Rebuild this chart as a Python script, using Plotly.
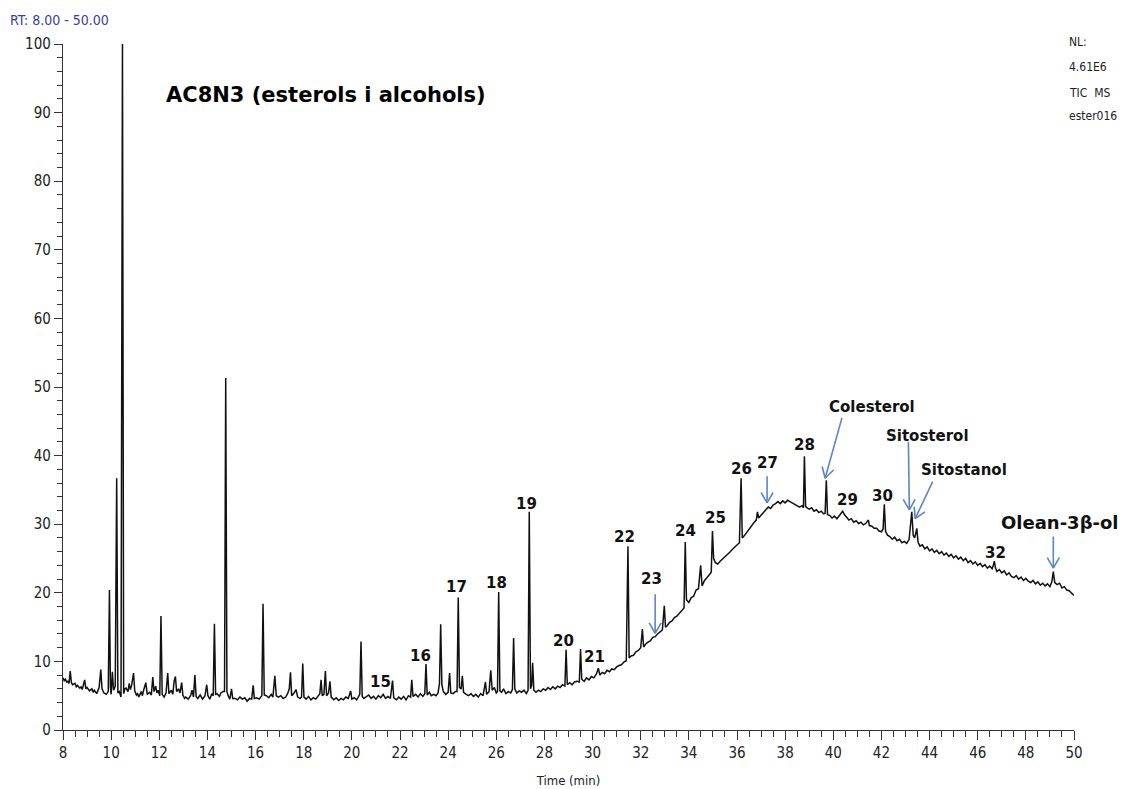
import plotly.graph_objects as go

# TIC trace (retention time in min, relative abundance %)
rt = [
    8.00, 8.05, 8.10, 8.15, 8.20, 8.25, 8.30, 8.35, 8.40, 8.50,
    8.55, 8.60, 8.70, 8.75, 8.80, 8.90, 8.95, 9.00, 9.10, 9.20,
    9.25, 9.30, 9.40, 9.50, 9.57, 9.62, 9.70, 9.80, 9.88, 9.93,
    9.97, 10.00, 10.05, 10.10, 10.17, 10.23, 10.28, 10.34, 10.41, 10.47,
    10.52, 10.57, 10.62, 10.70, 10.75, 10.80, 10.85, 10.93, 10.98, 11.05,
    11.10, 11.15, 11.25, 11.30, 11.35, 11.44, 11.50, 11.60, 11.67, 11.73,
    11.78, 11.85, 11.90, 11.95, 12.02, 12.07, 12.12, 12.20, 12.28, 12.35,
    12.40, 12.50, 12.56, 12.62, 12.67, 12.72, 12.80, 12.86, 12.93, 12.98,
    13.05, 13.10, 13.20, 13.30, 13.36, 13.42, 13.48, 13.53, 13.60, 13.70,
    13.80, 13.90, 13.97, 14.02, 14.10, 14.18, 14.24, 14.29, 14.34, 14.40,
    14.50, 14.56, 14.65, 14.71, 14.76, 14.81, 14.86, 14.93, 15.00, 15.05,
    15.15, 15.25, 15.35, 15.45, 15.55, 15.65, 15.75, 15.84, 15.90, 15.95,
    16.05, 16.15, 16.26, 16.31, 16.36, 16.45, 16.55, 16.65, 16.72, 16.80,
    16.86, 16.95, 17.05, 17.15, 17.25, 17.33, 17.40, 17.45, 17.50, 17.60,
    17.68, 17.75, 17.85, 17.91, 17.96, 18.01, 18.10, 18.20, 18.30, 18.40,
    18.50, 18.60, 18.67, 18.72, 18.77, 18.84, 18.90, 18.95, 19.03, 19.09,
    19.14, 19.25, 19.35, 19.45, 19.55, 19.65, 19.75, 19.85, 19.95, 20.00,
    20.10, 20.20, 20.28, 20.33, 20.38, 20.43, 20.50, 20.60, 20.70, 20.80,
    20.90, 21.00, 21.10, 21.20, 21.30, 21.40, 21.50, 21.60, 21.69, 21.74,
    21.85, 21.95, 22.05, 22.15, 22.25, 22.35, 22.44, 22.49, 22.54, 22.65,
    22.75, 22.85, 22.95, 23.03, 23.08, 23.13, 23.22, 23.30, 23.40, 23.50,
    23.58, 23.64, 23.69, 23.74, 23.80, 23.90, 24.00, 24.06, 24.11, 24.20,
    24.30, 24.37, 24.42, 24.47, 24.54, 24.59, 24.64, 24.75, 24.85, 24.95,
    25.05, 25.15, 25.25, 25.35, 25.45, 25.55, 25.60, 25.70, 25.77, 25.83,
    25.92, 26.00, 26.05, 26.10, 26.15, 26.22, 26.30, 26.40, 26.50, 26.60,
    26.67, 26.72, 26.77, 26.85, 26.95, 27.05, 27.15, 27.25, 27.32, 27.37,
    27.42, 27.47, 27.51, 27.56, 27.65, 27.75, 27.85, 27.95, 28.05, 28.15,
    28.25, 28.35, 28.45, 28.55, 28.65, 28.75, 28.85, 28.90, 28.95, 29.05,
    29.15, 29.25, 29.35, 29.45, 29.50, 29.55, 29.65, 29.75, 29.85, 29.95,
    30.05, 30.15, 30.24, 30.30, 30.40, 30.50, 30.60, 30.70, 30.80, 30.90,
    31.00, 31.10, 31.20, 31.30, 31.40, 31.47, 31.52, 31.60, 31.70, 31.80,
    31.90, 32.00, 32.07, 32.12, 32.20, 32.30, 32.40, 32.50, 32.60, 32.70,
    32.80, 32.90, 32.98, 33.03, 33.10, 33.20, 33.30, 33.40, 33.50, 33.60,
    33.70, 33.80, 33.85, 33.90, 34.00, 34.10, 34.20, 34.30, 34.40, 34.49,
    34.55, 34.65, 34.75, 34.85, 34.93, 34.98, 35.03, 35.10, 35.20, 35.30,
    35.40, 35.50, 35.60, 35.70, 35.80, 35.90, 36.00, 36.10, 36.17, 36.22,
    36.30, 36.40, 36.50, 36.60, 36.70, 36.80, 36.85, 36.90, 37.00, 37.10,
    37.20, 37.30, 37.40, 37.50, 37.60, 37.70, 37.80, 37.90, 38.00, 38.10,
    38.20, 38.30, 38.40, 38.50, 38.60, 38.70, 38.76, 38.80, 38.85, 38.90,
    39.00, 39.10, 39.20, 39.30, 39.40, 39.50, 39.60, 39.66, 39.71, 39.76,
    39.85, 39.95, 40.05, 40.15, 40.25, 40.32, 40.39, 40.46, 40.55, 40.65,
    40.75, 40.85, 40.95, 41.05, 41.15, 41.25, 41.35, 41.42, 41.46, 41.50,
    41.60, 41.70, 41.80, 41.90, 42.00, 42.07, 42.12, 42.17, 42.25, 42.35,
    42.45, 42.55, 42.65, 42.75, 42.85, 42.95, 43.05, 43.15, 43.22, 43.26,
    43.32, 43.38, 43.42, 43.47, 43.52, 43.60, 43.70, 43.80, 43.90, 44.00,
    44.10, 44.20, 44.30, 44.40, 44.50, 44.60, 44.70, 44.80, 44.90, 45.00,
    45.10, 45.20, 45.30, 45.40, 45.50, 45.60, 45.70, 45.80, 45.90, 46.00,
    46.10, 46.20, 46.30, 46.40, 46.50, 46.60, 46.65, 46.69, 46.74, 46.80,
    46.90, 47.00, 47.10, 47.20, 47.30, 47.40, 47.50, 47.60, 47.70, 47.80,
    47.90, 48.00, 48.10, 48.20, 48.30, 48.40, 48.50, 48.60, 48.70, 48.80,
    48.90, 49.00, 49.08, 49.14, 49.20, 49.30, 49.40, 49.50, 49.60, 49.70,
    49.80, 49.90, 50.00,
]
tic = [
    7.6, 7.2, 7.4, 7.0, 7.1, 6.8, 8.6, 6.9, 6.6, 6.8,
    6.3, 6.5, 6.1, 6.3, 5.9, 7.3, 6.0, 6.2, 5.7, 6.0,
    5.5, 5.8, 5.3, 6.2, 8.8, 6.0, 5.4, 5.2, 5.6, 20.4,
    6.2, 5.2, 8.5, 5.8, 6.4, 36.7, 5.4, 5.6, 4.8, 100.0,
    5.3, 6.0, 6.1, 5.6, 6.8, 5.9, 6.5, 8.3, 5.7, 5.1,
    5.3, 4.8, 5.6, 5.0, 5.8, 6.9, 5.2, 5.5, 5.1, 7.7,
    5.6, 6.4, 5.4, 5.8, 5.0, 16.6, 5.2, 4.8, 5.4, 8.3,
    5.3, 5.8, 5.2, 7.2, 7.8, 5.6, 6.0, 5.4, 6.9, 5.1,
    4.6, 4.8, 4.5, 5.0, 5.8, 4.8, 8.0, 4.9, 4.6, 5.1,
    4.5, 5.0, 6.6, 5.0, 4.5, 5.3, 5.0, 15.5, 5.2, 5.3,
    4.9, 5.4, 5.6, 5.6, 51.3, 5.6, 5.0, 4.5, 6.0, 4.6,
    4.6, 4.4, 4.8, 4.5, 4.7, 4.2, 4.6, 4.5, 6.5, 4.6,
    4.7, 4.5, 5.0, 18.4, 5.1, 5.0, 4.7, 5.2, 4.8, 7.9,
    5.0, 4.8, 5.0, 4.6, 4.8, 5.3, 6.0, 8.4, 5.0, 5.4,
    5.9, 4.8, 4.6, 4.8, 9.7, 4.8, 4.5, 4.9, 4.4, 4.7,
    4.5, 5.0, 5.3, 7.3, 5.0, 5.2, 8.6, 5.0, 5.4, 7.1,
    4.8, 4.4, 4.7, 4.3, 4.6, 4.4, 4.8, 4.6, 5.7, 4.5,
    4.7, 4.4, 4.9, 5.2, 12.9, 4.9, 4.6, 4.8, 5.1, 4.6,
    4.9, 4.5, 5.0, 4.7, 5.2, 4.6, 4.9, 4.6, 7.2, 4.7,
    4.4, 4.8, 4.5, 4.9, 4.4, 5.0, 4.8, 7.3, 4.9, 5.2,
    4.8, 5.3, 4.9, 5.3, 9.6, 5.1, 5.5, 5.0, 5.2, 5.0,
    5.4, 6.8, 15.4, 6.6, 5.6, 5.2, 5.5, 8.3, 5.4, 5.3,
    5.6, 5.6, 19.3, 6.2, 6.0, 7.9, 5.5, 5.2, 5.0, 5.3,
    4.9, 5.2, 4.8, 5.3, 5.0, 7.0, 5.2, 5.6, 8.7, 5.8,
    6.2, 5.4, 5.6, 20.1, 5.7, 5.5, 6.0, 5.3, 5.6, 5.4,
    5.9, 13.4, 6.0, 5.4, 5.7, 5.5, 5.8, 5.3, 5.8, 31.8,
    6.0, 6.5, 9.8, 5.8, 5.5, 5.8, 5.6, 6.0, 5.8, 6.2,
    5.9, 6.3, 6.0, 6.4, 6.2, 6.6, 6.4, 11.7, 6.6, 6.9,
    6.6, 7.0, 7.1, 7.0, 11.8, 7.4, 7.1, 7.6, 7.3, 7.8,
    7.6, 8.1, 9.0, 8.0, 8.4, 8.2, 8.7, 8.5, 8.9, 8.8,
    9.2, 9.4, 9.5, 9.9, 10.1, 26.8, 10.5, 10.8, 10.9, 11.4,
    11.6, 12.0, 14.7, 12.1, 12.5, 12.8, 13.0, 13.5, 13.6, 14.0,
    14.3, 14.6, 18.1, 15.0, 15.2, 15.7, 15.9, 16.4, 16.6, 17.0,
    17.3, 17.8, 27.4, 19.0, 18.6, 19.3, 19.5, 20.4, 20.6, 24.0,
    21.0, 21.8, 22.2, 22.6, 23.0, 29.0, 25.0, 24.4, 24.2, 24.6,
    24.9, 25.2, 25.6, 25.9, 26.3, 26.6, 27.0, 27.3, 36.7, 28.0,
    28.3, 28.8, 29.3, 29.8, 30.2, 30.6, 31.8, 30.9, 31.3, 31.6,
    32.0, 32.5, 32.3, 32.8, 33.0, 33.3, 33.0, 33.4, 33.1, 33.5,
    33.3, 33.1, 32.9, 32.6, 32.5, 32.7, 32.4, 39.9, 32.6, 32.4,
    32.2, 32.4, 31.9, 32.1, 31.7, 31.9, 31.5, 31.6, 36.4, 31.4,
    31.3, 30.9, 31.2, 30.8, 31.2, 31.6, 31.9, 31.4, 31.0, 30.6,
    30.8, 30.3, 30.5, 30.1, 30.3, 29.9, 30.1, 30.4, 30.6, 29.8,
    29.7, 29.4, 29.4, 29.0, 28.9, 29.3, 32.9, 29.0, 28.4, 28.2,
    27.8, 28.1, 27.6, 27.8, 27.3, 27.5, 27.2, 27.8, 30.5, 31.8,
    28.4, 28.0, 28.6, 29.4, 27.4, 26.8, 27.0, 26.4, 26.7, 26.1,
    26.4, 25.9, 26.2, 25.7, 26.0, 25.5, 25.8, 25.3, 25.6, 25.1,
    25.4, 24.9, 25.2, 24.7, 25.0, 24.4, 24.7, 24.2, 24.5, 24.0,
    24.3, 23.8, 24.1, 23.6, 23.9, 23.5, 24.0, 24.6, 23.6, 23.1,
    23.4, 22.9, 23.2, 22.6, 22.9, 22.4, 22.2, 22.5, 22.0, 22.3,
    21.8, 22.1, 21.7, 21.5, 21.8, 21.3, 21.6, 21.1, 21.4, 21.0,
    21.3, 20.9, 21.6, 23.1, 21.5, 21.2, 21.4, 20.7, 20.9, 20.4,
    20.3, 19.9, 19.6,
]

# peak numbers and names written above the trace
labels = ["15", "16", "17", "18", "19", "20", "21", "22", "23", "24", "25",
          "26", "27", "28", "29", "30", "32",
          "Colesterol", "Sitosterol", "Sitostanol", "Olean-3β-ol"]
label_rt = [21.21, 22.87, 24.33, 25.99, 27.24, 28.81, 30.06, 31.31, 32.43, 33.84, 35.09,
            36.17, 37.25, 38.79, 40.57, 42.03, 46.72,
            41.61, 43.90, 45.43, 49.40]
label_y = [7.0, 10.8, 20.8, 21.4, 32.9, 13.0, 10.6, 28.1, 22.0, 29.0, 30.9,
           38.0, 38.9, 41.5, 33.5, 34.1, 25.8,
           47.1, 42.9, 37.9, 30.2]

# arrows: tail -> tip
arrow_from_rt = [32.60, 37.25, 40.36, 43.12, 44.13, 49.14]
arrow_from_y = [19.8, 37.0, 45.5, 42.0, 36.2, 28.2]
arrow_to_rt = [32.60, 37.25, 39.66, 43.16, 43.40, 49.14]
arrow_to_y = [14.1, 33.1, 36.7, 32.1, 30.8, 23.6]

header_lines = ["NL:", "4.61E6", "TIC  MS", "ester016"]

x_ticks = list(range(8, 51, 2))
y_ticks = list(range(0, 101, 10))

# page body adds an 8px offset, so the figure is 8px smaller on each axis
W, H = 1120, 781
ML, MR, MT, MB = 55, 54, 36, 59
PW, PH = W - ML - MR, H - MT - MB
px_x = PW / 42.0
px_y = PH / 100.0

fig = go.Figure()
fig.add_trace(go.Scatter(x=rt, y=tic, mode="lines",
                         line=dict(color="#111111", width=1.5),
                         hoverinfo="skip", showlegend=False))

arrow_col = "#5a86c4"
ax_pts, ay_pts = [], []
for x0, y0, x1, y1 in zip(arrow_from_rt, arrow_from_y, arrow_to_rt, arrow_to_y):
    ax_pts += [x0, x1, None]
    ay_pts += [y0, y1, None]
    # open V head, built in pixel space
    dx = (x1 - x0) * px_x
    dy = (y1 - y0) * px_y
    n = (dx * dx + dy * dy) ** 0.5
    ux, uy = dx / n, dy / n
    L = 12
    for s in (1, -1):
        c, sn = 0.87, 0.5 * s
        hx = -(ux * c - uy * sn) * L
        hy = -(ux * sn + uy * c) * L
        ax_pts += [x1 + hx / px_x, x1, None]
        ay_pts += [y1 + hy / px_y, y1, None]
fig.add_trace(go.Scatter(x=ax_pts, y=ay_pts, mode="lines",
                         line=dict(color=arrow_col, width=1.6),
                         hoverinfo="skip", showlegend=False))

bold_font = "DejaVu Sans, Liberation Sans, Arial"
for txt, x, y in zip(labels, label_rt, label_y):
    size = 18 if txt.startswith("Olean") else 15
    fig.add_annotation(x=x, y=y, text=f"<b>{txt}</b>", showarrow=False,
                       font=dict(family=bold_font, size=size, color="#111111"))

fig.add_annotation(x=12.2, y=92.6, text="<b>AC8N3 (esterols i alcohols)</b>",
                   showarrow=False, xanchor="left",
                   font=dict(family=bold_font, size=21, color="#000000"))

narrow = "DejaVu Sans Condensed, Liberation Sans Narrow, Arial Narrow, Liberation Sans, sans-serif"
fig.add_annotation(xref="paper", yref="paper", x=(0 - ML) / PW,
                   y=(H - MB - 12) / PH, text="RT: 8.00 - 50.00",
                   showarrow=False, xanchor="left", yanchor="middle",
                   font=dict(family=narrow, size=14, color="#3b3ba8"))

for txt, fy in zip(header_lines, [34, 59, 85, 108]):
    fig.add_annotation(xref="paper", yref="paper", x=(1059 - ML) / PW,
                       y=(H - MB - fy) / PH, text=txt, showarrow=False,
                       xanchor="left", yanchor="middle",
                       font=dict(family=narrow, size=12, color="#222222"))

fig.update_layout(
    width=W, height=H,
    margin=dict(l=ML, r=MR, t=MT, b=MB, autoexpand=False),
    paper_bgcolor="white", plot_bgcolor="white",
    font=dict(family=narrow, size=14, color="#222222"),
)
fig.update_xaxes(range=[8, 50], tickvals=x_ticks, ticks="outside", ticklen=9,
                 tickwidth=1.3, tickcolor="#333333", showline=True, linecolor="#333333",
                 linewidth=1.3, showgrid=False, zeroline=False,
                 minor=dict(dtick=0.5, tick0=8, ticks="outside", ticklen=6,
                            tickcolor="#333333", tickwidth=1),
                 title=dict(text="Time (min)", font=dict(family=narrow, size=13), standoff=14),
                 tickfont=dict(family=narrow, size=15))
fig.update_yaxes(range=[0, 100], tickvals=y_ticks, ticks="outside", ticklen=8,
                 tickwidth=1.3, tickcolor="#333333", showline=True, linecolor="#333333",
                 linewidth=1.3, showgrid=False, zeroline=False,
                 minor=dict(dtick=2, tick0=0, ticks="outside", ticklen=5,
                            tickcolor="#333333", tickwidth=1),
                 tickfont=dict(family=narrow, size=15))

fig.write_html("out.html")
